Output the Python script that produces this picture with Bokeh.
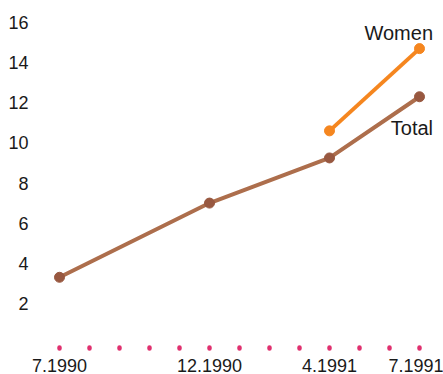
from bokeh.plotting import figure
from bokeh.models import FixedTicker, Range1d
from bokeh.core.properties import value
from bokeh.embed import file_html
from bokeh.resources import INLINE

# Data
month_labels = ["7.1990", "12.1990", "4.1991", "7.1991"]
month_index = [0, 5, 9, 12]          # months since 7.1990
total_values = [3.3, 7.0, 9.25, 12.3]
women_months = [9, 12]
women_values = [10.6, 14.7]
all_months = list(range(0, 13))      # one dotted tick per month
y_ticks = [2, 4, 6, 8, 10, 12, 14, 16]

FONT = "Liberation Sans"
TOTAL_LINE = "#ad6e4c"
TOTAL_DOT = "#985840"
WOMEN = "#f5861f"
DOT = "#e0306e"

p = figure(frame_width=390, frame_height=337,
           x_range=Range1d(-0.5, 12.5), y_range=Range1d(-0.2, 16.6),
           output_backend="svg", toolbar_location=None,
           min_border_left=44, min_border_right=9, min_border_top=10, min_border_bottom=0)
p.outline_line_color = None
p.background_fill_color = "white"
p.border_fill_color = "white"
p.xgrid.visible = False
p.ygrid.visible = False

# y axis: labels only
p.yaxis.ticker = FixedTicker(ticks=y_ticks)
p.yaxis.axis_line_color = None
p.yaxis.major_tick_line_color = None
p.yaxis.minor_tick_line_color = None
p.yaxis.major_label_text_font = FONT
p.yaxis.major_label_text_font_size = "18px"
p.yaxis.major_label_text_color = "#1a1a1a"
p.yaxis.major_label_standoff = 10

# x axis: dotted month ticks, four labels
p.xaxis.ticker = FixedTicker(ticks=all_months)
p.xaxis.major_label_overrides = {m: "" for m in all_months}
p.xaxis.major_label_overrides.update({m: lab for m, lab in zip(month_index, month_labels)})
p.xaxis.axis_line_color = None
p.xaxis.minor_tick_line_color = None
p.xaxis.major_tick_line_color = DOT
p.xaxis.major_tick_line_width = 4.5
p.xaxis.major_tick_line_cap = "round"
p.xaxis.major_tick_in = 0
p.xaxis.major_tick_out = 1
p.xaxis.major_label_standoff = 10
p.xaxis.major_label_text_font = FONT
p.xaxis.major_label_text_font_size = "18px"
p.xaxis.major_label_text_color = "#1a1a1a"

# Lines
p.line(month_index, total_values, line_color=TOTAL_LINE, line_width=4)
p.scatter(month_index, total_values, size=10, fill_color=TOTAL_DOT, line_color=TOTAL_DOT)
p.line(women_months, women_values, line_color=WOMEN, line_width=4)
p.scatter(women_months, women_values, size=10, fill_color=WOMEN, line_color=WOMEN)

# Series labels
p.text([women_months[-1] + 0.45], [women_values[-1] + 0.8], text=["Women"],
       text_align="right", text_baseline="middle",
       text_font=value(FONT), text_font_size="20px", text_color="#1a1a1a")
p.text([month_index[-1] + 0.45], [total_values[-1] - 1.55], text=["Total"],
       text_align="right", text_baseline="middle",
       text_font=value(FONT), text_font_size="20px", text_color="#1a1a1a")

html = file_html(p, INLINE)
html = html.replace("<head>", "<head><style>html,body{overflow:hidden;}</style>", 1)
open("out.html", "w").write(html)
